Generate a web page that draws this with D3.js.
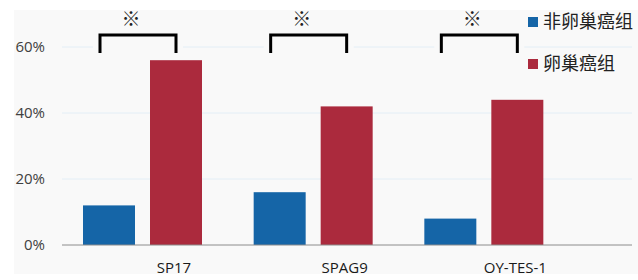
<!DOCTYPE html>
<meta charset="utf-8">
<style>
body { margin: 0; background: #fff; }
text { font-family: "Open Sans", "Noto Sans CJK SC", sans-serif; fill: #404040; }
.axis path { display: none; }
.axis line { stroke: none; }
.grid line { stroke: #e3eef6; stroke-width: 1px; }
.bracket { fill: none; stroke: #000; stroke-width: 3px; }
</style>
<svg width="638" height="280"></svg>
<script src="https://cdn.jsdelivr.net/npm/d3@7"></script>
<script>
var categories = ["SP17", "SPAG9", "OY-TES-1"];
var seriesNames = ["非卵巢癌组", "卵巢癌组"];
var nonCancer = [0.12, 0.16, 0.08];
var cancer = [0.56, 0.42, 0.44];
var yTicks = [0, 0.2, 0.4, 0.6];
var sigMark = ["※", "※", "※"];

var colors = ["#1565a7", "#ab2a3d"];

var svg = d3.select("svg");

// light panel behind the chart
svg.append("rect")
    .attr("x", 14).attr("y", 10)
    .attr("width", 624).attr("height", 264)
    .attr("fill", "#f9f9f9");

var x = d3.scaleBand()
    .domain(categories)
    .range([62, 574]);

var y = d3.scaleLinear()
    .domain([0, 0.6])
    .range([245, 47]);

var barW = 52, gap = 15, off = 21;

// gridlines
svg.append("g")
    .attr("class", "grid")
  .selectAll("line")
  .data(yTicks.slice(1))
  .enter().append("line")
    .attr("x1", 62).attr("x2", 632)
    .attr("y1", function(d) { return y(d); })
    .attr("y2", function(d) { return y(d); });

// y axis labels
svg.append("g")
    .attr("class", "axis")
    .attr("transform", "translate(62,0)")
    .call(d3.axisLeft(y).tickValues(yTicks).tickFormat(d3.format(".0%")).tickSize(0).tickPadding(17))
    .selectAll("text")
    .style("font-size", "15px")
    .style("font-family", "'Open Sans', sans-serif")
    .attr("fill", "#404040");

// bars
var series = [nonCancer, cancer];
series.forEach(function(vals, s) {
  svg.append("g").selectAll("rect")
    .data(vals)
    .enter().append("rect")
      .attr("x", function(d, i) { return x(categories[i]) + off + s * (barW + gap); })
      .attr("y", function(d) { return y(d); })
      .attr("width", barW)
      .attr("height", function(d) { return y(0) - y(d); })
      .attr("fill", colors[s]);
});

// baseline
svg.append("line")
    .attr("x1", 62).attr("x2", 632)
    .attr("y1", y(0)).attr("y2", y(0))
    .attr("stroke", "#8c8c8c").attr("stroke-width", 1);

// category labels
svg.append("g").selectAll("text")
  .data(categories)
  .enter().append("text")
    .attr("x", function(d) { return x(d) + 112; })
    .attr("y", 273)
    .attr("text-anchor", "middle")
    .style("font-size", "15px")
    .style("fill", "#1a1a1a")
    .text(function(d) { return d; });

// significance brackets
var br = svg.append("g");
categories.forEach(function(c, i) {
  var x1 = x(c) + 38,
      x2 = x1 + 76,
      top = 35, bot = 53;
  br.append("rect")
    .attr("x", x1 - 7).attr("y", 30)
    .attr("width", x2 - x1 + 14).attr("height", 26)
    .attr("fill", "#f9f9f9");
  br.append("path")
    .attr("class", "bracket")
    .attr("d", "M" + x1 + "," + bot + "V" + top + "H" + x2 + "V" + bot);
  br.append("text")
    .attr("x", (x1 + x2) / 2 - 7)
    .attr("y", 26)
    .attr("text-anchor", "middle")
    .style("font-size", "19px")
    .style("font-weight", "bold")
    .style("font-family", "'Noto Sans CJK SC', sans-serif")
    .style("fill", "#222")
    .text(sigMark[i]);
});

// legend
var legend = svg.append("g");
seriesNames.forEach(function(name, i) {
  var ly = 22 + i * 42;
  legend.append("rect")
    .attr("x", 528).attr("y", ly - 5)
    .attr("width", 10).attr("height", 10)
    .attr("fill", colors[i]);
  legend.append("text")
    .attr("x", 543).attr("y", ly)
    .attr("dy", "0.35em")
    .style("font-size", "18px")
    .style("font-family", "'Noto Sans CJK SC', sans-serif")
    .style("fill", "#222")
    .text(name);
});
</script>
